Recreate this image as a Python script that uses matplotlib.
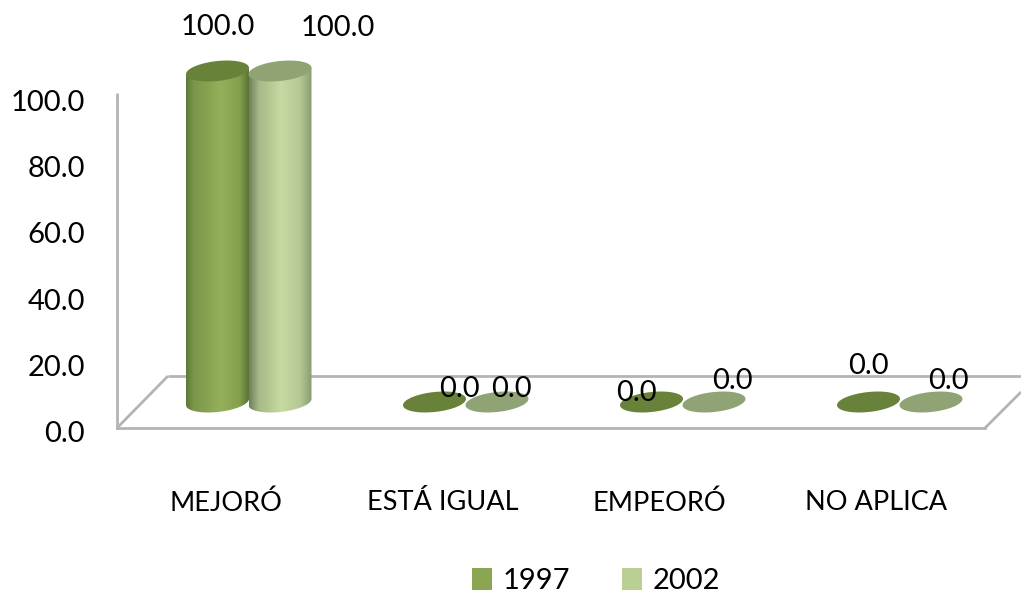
import numpy as np
import matplotlib
matplotlib.use("Agg")
import matplotlib.pyplot as plt
from matplotlib.colors import LinearSegmentedColormap
from matplotlib.patches import Polygon, Patch
from matplotlib.transforms import ScaledTranslation

categories = ["MEJORÓ", "ESTÁ IGUAL", "EMPEORÓ", "NO APLICA"]
series_names = ["1997", "2002"]
values_1997 = [100.0, 0.0, 0.0, 0.0]
values_2002 = [100.0, 0.0, 0.0, 0.0]
y_ticks = [0, 20, 40, 60, 80, 100]

plt.rcParams["font.family"] = ["Lato", "DejaVu Sans"]

W, H = 1021, 600
X0, X1, Y0, Y1 = 117, 985, 428, 97      # axes box in pixels
fig = plt.figure(figsize=(W / 100, H / 100), dpi=100, facecolor="white")
ax = fig.add_axes([X0 / W, 1 - Y0 / H, (X1 - X0) / W, (Y0 - Y1) / H])
ax.set_xlim(-0.5, 3.5)
ax.set_ylim(0, 100)
ax.patch.set_visible(False)
PX = (X1 - X0) / 4      # pixels per category
PY = (Y0 - Y1) / 100    # pixels per unit

GREY = "#b4b4b4"
for s in ax.spines.values():
    s.set_visible(False)
for name in ("left", "bottom"):
    ax.spines[name].set_visible(True)
    ax.spines[name].set_color(GREY)
    ax.spines[name].set_linewidth(2)

def d(px, py):
    return (-0.5 + (px - X0) / PX, (Y0 - py) / PY)

floor = [[d(117, 428), d(168, 376)], [d(168, 376), d(1021, 376)], [d(985, 428), d(1021, 392)],
         [d(117, 97), d(117, 93)]]
for seg in floor:
    ax.plot(*zip(*seg), color=GREY, lw=2, clip_on=False, zorder=1, solid_capstyle="butt")

ax.set_xticks(range(4), categories, fontsize=19.5)
ax.set_yticks(y_ticks, [f"{v:.1f}" for v in y_ticks], fontsize=21)
ax.tick_params(axis="both", length=0)
ax.tick_params(axis="y", pad=23)
ax.tick_params(axis="x", pad=45)
shift = ScaledTranslation(0, -2.5 / 72, fig.dpi_scale_trans)
for lab in ax.get_yticklabels():
    lab.set_transform(lab.get_transform() + shift)

A, B, K = 31.5, 10.0, 0.10
BASE = 26 / PY           # depth shift of the bars above the front edge
OFFS = [-8 / PX, 54.5 / PX]
cmaps = [
    LinearSegmentedColormap.from_list("a", [(0, "#5c7836"), (0.12, "#7b9648"), (0.55, "#94b05a"), (0.85, "#84a04c"), (1, "#5a7433")]),
    LinearSegmentedColormap.from_list("b", [(0, "#6f7f5c"), (0.15, "#a5b886"), (0.5, "#c6daa2"), (0.8, "#b5c893"), (1, "#87976f")]),
]
caps = ["#69823a", "#90a375"]
legend_colors = ["#8aa650", "#b9cf94"]

def ell(cx, cy, t):
    return np.c_[cx + (A * np.cos(t)) / PX, cy + (B * np.sin(t) + K * A * np.cos(t)) / PY]

grad = np.linspace(0, 1, 256)[None, :]
for si, vals in enumerate([values_1997, values_2002]):
    for i, v in enumerate(vals):
        cx = i + OFFS[si]
        bot, top = BASE, BASE + v
        if v > 0:
            arc = ell(cx, bot, np.linspace(np.pi, 2 * np.pi, 60))
            pts = np.vstack([[ell(cx, top, np.array([np.pi]))[0]], arc, [ell(cx, top, np.array([0.0]))[0]]])
            path = Polygon(pts, closed=True, transform=ax.transData, fc="none", ec="none")
            ax.add_patch(path)
            path.set_clip_on(False)
            im = ax.imshow(grad, cmap=cmaps[si], aspect="auto", zorder=3 + si,
                           extent=(cx - A / PX, cx + A / PX, bot - 3 * B / PY, top + 3 * B / PY))
            im.set_clip_path(path)
            im.set_clip_box(fig.bbox)
        capp = Polygon(ell(cx, top, np.linspace(0, 2 * np.pi, 90)), closed=True, fc=caps[si],
                       ec="none", zorder=3.5 + si, clip_on=False)
        ax.add_patch(capp)
ax.set_xlim(-0.5, 3.5)
ax.set_ylim(0, 100)

# data labels: pixel centre of each label
label_px = [[(218, 27), (459, 389), (636, 393), (868, 366)],
            [(338, 28), (511, 389), (732, 381), (948, 381)]]
for si, vals in enumerate([values_1997, values_2002]):
    for i, v in enumerate(vals):
        lx, ly = d(*label_px[si][i])
        ax.text(lx, ly, f"{v:.1f}", ha="center", va="center", fontsize=21, color="black",
                zorder=10, clip_on=False)

handles = [Patch(fc=c, ec="none") for c in legend_colors]
fig.legend(handles, series_names, loc="center", bbox_to_anchor=(596 / W, 1 - 581 / H), ncol=2,
           frameon=False, fontsize=21, handlelength=0.69, handleheight=0.75, handletextpad=0.35,
           columnspacing=1.8, borderpad=0, labelspacing=0)

fig.savefig("out.png", dpi=100, facecolor="white")
